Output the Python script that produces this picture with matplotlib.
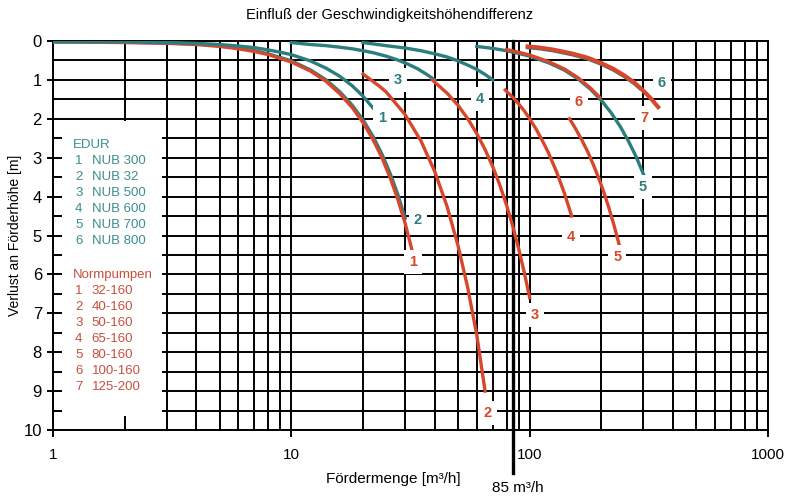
import numpy as np
import matplotlib
matplotlib.use('Agg')
import matplotlib.pyplot as plt
from matplotlib.patches import Rectangle

plt.rcParams['font.family'] = ['Liberation Sans', 'DejaVu Sans']

TEAL = '#2c7d7d'
RED = '#d6472b'
TEAL_TXT = '#3c8f8f'
RED_TXT = '#c4503e'

# EDUR curves (teal)
q_nub300 = [1, 2, 3, 4, 5, 6, 7, 8, 9, 10, 12, 14, 16, 18, 20, 22]
h_nub300 = [0.02, 0.02, 0.04, 0.06, 0.09, 0.13, 0.17, 0.23, 0.29, 0.35, 0.51, 0.70, 0.91, 1.15, 1.42, 1.72]

q_nub32 = [1, 2, 3, 4, 5, 6, 7, 8, 10, 12, 14, 16, 18, 20, 22, 24, 26, 28, 30]
h_nub32 = [0.02, 0.03, 0.05, 0.08, 0.12, 0.18, 0.25, 0.33, 0.51, 0.74, 1.0, 1.31, 1.65, 2.03, 2.45, 2.91, 3.41, 3.95, 4.55]

q_nub500 = [10, 12, 14, 16, 18, 20, 22, 25, 28, 31, 34, 37, 40]
h_nub500 = [0.04, 0.09, 0.12, 0.16, 0.2, 0.25, 0.3, 0.39, 0.49, 0.6, 0.72, 0.86, 1.0]

q_nub600 = [20, 25, 30, 35, 40, 45, 50, 55, 60, 65, 70]
h_nub600 = [0.04, 0.12, 0.18, 0.25, 0.33, 0.41, 0.51, 0.62, 0.73, 0.86, 1.0]

q_nub700 = [60, 70, 80, 90, 100, 120, 140, 160, 180, 200, 220, 240, 260, 280, 300]
h_nub700 = [0.14, 0.19, 0.25, 0.32, 0.39, 0.56, 0.75, 0.98, 1.24, 1.53, 1.85, 2.2, 2.58, 2.98, 3.42]

q_nub800 = [98, 110, 125, 150, 175, 200, 225, 250, 275, 290]
h_nub800 = [0.17, 0.2, 0.25, 0.35, 0.46, 0.6, 0.75, 0.92, 1.1, 1.22]

# Normpumpen curves (red)
q_32_160 = [1, 2, 3, 4, 5, 6, 7, 8, 10, 12, 14, 16, 18, 20, 22, 24, 26, 28, 30, 32]
h_32_160 = [0.02, 0.04, 0.06, 0.09, 0.14, 0.2, 0.27, 0.35, 0.54, 0.77, 1.04, 1.36, 1.71, 2.1, 2.53, 3.0, 3.52, 4.08, 4.68, 5.35]

q_40_160 = [20, 23.5, 25, 30, 35, 40, 45, 50, 55, 60, 65]
h_40_160 = [0.85, 1.17, 1.31, 1.89, 2.57, 3.36, 4.25, 5.25, 6.35, 7.56, 9.0]

q_50_160 = [39, 45, 50, 55, 60, 65, 70, 75, 80, 85, 90, 95, 100]
h_50_160 = [1.0, 1.34, 1.65, 2.0, 2.38, 2.79, 3.23, 3.71, 4.22, 4.77, 5.35, 5.96, 6.6]

q_65_160 = [79, 85, 90, 95, 100, 107, 115, 120, 130, 140, 150]
h_65_160 = [1.26, 1.45, 1.62, 1.8, 2.0, 2.29, 2.65, 2.88, 3.38, 3.92, 4.5]

q_80_160 = [147, 155, 165, 175, 185, 195, 205, 215, 225, 239]
h_80_160 = [2.0, 2.23, 2.53, 2.84, 3.18, 3.53, 3.9, 4.29, 4.7, 5.3]

q_100_160 = [80, 90, 100, 120, 140, 160, 180, 197]
h_100_160 = [0.22, 0.29, 0.36, 0.53, 0.72, 0.95, 1.21, 1.45]

q_125_200 = [98, 110, 125, 150, 175, 200, 225, 250, 275, 300, 325, 346]
h_125_200 = [0.14, 0.17, 0.22, 0.32, 0.43, 0.57, 0.72, 0.89, 1.07, 1.28, 1.5, 1.7]

edur_names = ['NUB 300', 'NUB 32', 'NUB 500', 'NUB 600', 'NUB 700', 'NUB 800']
norm_names = ['32-160', '40-160', '50-160', '65-160', '80-160', '100-160', '125-200']

# curve number labels: (text, Q, h)
teal_labels = [('1', 24, 1.97), ('2', 34, 4.6), ('3', 28, 1.0), ('4', 62, 1.5), ('5', 299, 3.75), ('6', 358, 1.07)]
red_labels = [('1', 32.3, 5.68), ('2', 66.5, 9.56), ('3', 105, 7.04), ('4', 149, 5.04),
              ('5', 233, 5.55), ('6', 161, 1.57), ('7', 302, 1.98)]

fig = plt.figure(figsize=(8, 5), dpi=100)
ax = fig.add_axes([53 / 800, 1 - 430 / 500, 715 / 800, 389 / 500])

ax.set_xscale('log')
ax.set_xlim(1, 1000)
ax.set_ylim(10, 0)

ax.set_xticks([1, 10, 100, 1000])
ax.set_xticklabels(['1', '10', '100', '1000'])
minor_x = [m * d for d in (1, 10, 100) for m in range(2, 10)]
ax.set_xticks(minor_x, minor=True)
ax.set_yticks(range(0, 11))
ax.set_yticks(np.arange(0.5, 10, 1.0), minor=True)
ax.tick_params(axis='x', which='major', length=5, width=1.4, labelsize=11, pad=8)
ax.tick_params(axis='y', which='major', length=4, width=1.4, labelsize=12, pad=4)
ax.tick_params(which='minor', length=0)
ax.xaxis.set_minor_formatter(plt.NullFormatter())

ax.grid(which='both', color='black', linewidth=1.4)
ax.set_axisbelow(True)
for s in ax.spines.values():
    s.set_linewidth(1.4)

# white legend panel covering the grid
ax.add_patch(Rectangle((1.09, 2.06), 2.87 - 1.09, 9.64 - 2.06, facecolor='white',
                       edgecolor='none', zorder=1.5))

lw = 2.4
ax.plot(q_nub32, h_nub32, color=TEAL, lw=lw, zorder=3)
ax.plot(q_32_160, h_32_160, color=RED, lw=lw, zorder=3.1)
ax.plot(q_nub300, h_nub300, color=TEAL, lw=lw, zorder=3.2)
ax.plot(q_nub500, h_nub500, color=TEAL, lw=lw, zorder=3)
ax.plot(q_nub600, h_nub600, color=TEAL, lw=lw, zorder=3)
ax.plot(q_40_160, h_40_160, color=RED, lw=lw, zorder=3)
ax.plot(q_50_160, h_50_160, color=RED, lw=lw, zorder=3)
ax.plot(q_65_160, h_65_160, color=RED, lw=lw, zorder=3)
ax.plot(q_80_160, h_80_160, color=RED, lw=lw, zorder=3)
ax.plot(q_nub700, h_nub700, color=TEAL, lw=lw, zorder=3)
ax.plot(q_100_160, h_100_160, color=RED, lw=lw, zorder=3.1)
ax.plot(q_nub800, h_nub800, color=TEAL, lw=lw, zorder=3)
ax.plot(q_125_200, h_125_200, color=RED, lw=lw + 0.6, zorder=3.1)

# 85 m3/h marker
ax.plot([85, 85], [0, 11.1], color='black', lw=2.4, clip_on=False, zorder=2.5)
ax.text(89, 11.5, '85 m³/h', ha='center', va='center', fontsize=11)

box = dict(boxstyle='square,pad=0.35', facecolor='white', edgecolor='none')
for t, q, h in teal_labels:
    ax.text(q, h, t, color=TEAL, fontsize=10.5, fontweight='bold', ha='center', va='center',
            bbox=box, zorder=4)
for t, q, h in red_labels:
    ax.text(q, h, t, color=RED, fontsize=10.5, fontweight='bold', ha='center', va='center',
            bbox=box, zorder=4)

# legend text
x_head, x_num, x_name = 1.217, 1.237, 1.454
ax.text(x_head, 2.67, 'EDUR', color=TEAL_TXT, fontsize=9.5, va='center', zorder=4)
for i, name in enumerate(edur_names):
    y = 2.67 + 0.41 * (i + 1)
    ax.text(x_num, y, str(i + 1), color=TEAL_TXT, fontsize=9.5, va='center', zorder=4)
    ax.text(x_name, y, name, color=TEAL_TXT, fontsize=9.5, va='center', zorder=4)
ax.text(x_head, 6.02, 'Normpumpen', color=RED_TXT, fontsize=9.5, va='center', zorder=4)
for i, name in enumerate(norm_names):
    y = 6.02 + 0.41 * (i + 1)
    ax.text(x_num, y, str(i + 1), color=RED_TXT, fontsize=9.5, va='center', zorder=4)
    ax.text(x_name, y, name, color=RED_TXT, fontsize=9.5, va='center', zorder=4)

fig.text(390 / 800, 1 - 15 / 500, 'Einfluß der Geschwindigkeitshöhendifferenz',
         ha='center', va='center', fontsize=10.5)
fig.text(393 / 800, 1 - 479 / 500, 'Fördermenge [m³/h]', ha='center', va='center', fontsize=11)
fig.text(15 / 800, 1 - 235 / 500, 'Verlust an Förderhöhe [m]', ha='center', va='center',
         rotation=90, fontsize=10)

fig.savefig('out.png', dpi=100)
